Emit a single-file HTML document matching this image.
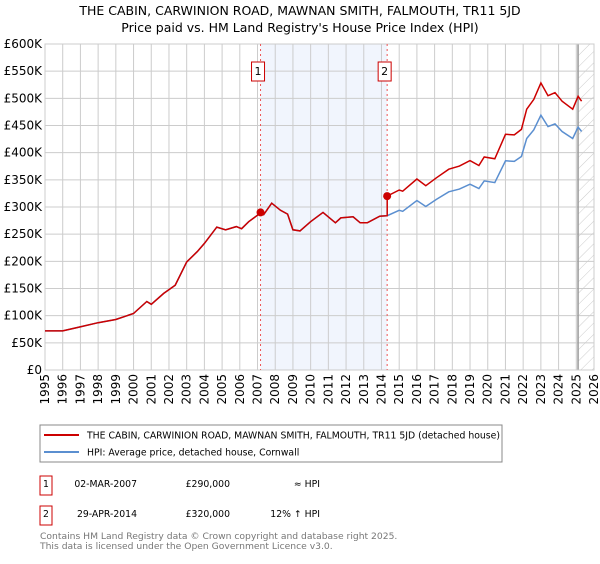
<!DOCTYPE html>
<html><head><meta charset="utf-8"><style>
body{margin:0;background:#fff;font-family:"DejaVu Sans","Liberation Sans",sans-serif;}
svg text{font-family:"DejaVu Sans","Liberation Sans",sans-serif;}
</style></head><body>
<svg id="chart" width="600" height="560" xmlns="http://www.w3.org/2000/svg">
<defs><pattern id="hatch" width="8" height="8" patternUnits="userSpaceOnUse" patternTransform="rotate(45)"><line x1="0" y1="0" x2="0" y2="8" stroke="#ccc" stroke-width="1"/></pattern></defs>
<text x="300" y="15" text-anchor="middle" font-size="12.5">THE CABIN, CARWINION ROAD, MAWNAN SMITH, FALMOUTH, TR11 5JD</text>
<text x="300" y="32" text-anchor="middle" font-size="12.5">Price paid vs. HM Land Registry's House Price Index (HPI)</text>
<g id="plot"></g>
<g>
<rect x="40" y="425" width="462" height="37" fill="#fff" stroke="#888"/>
<line x1="44" y1="435" x2="79" y2="435" stroke="#cc0000" stroke-width="2"/>
<text x="87" y="438.5" font-size="9.3">THE CABIN, CARWINION ROAD, MAWNAN SMITH, FALMOUTH, TR11 5JD (detached house)</text>
<line x1="44" y1="452" x2="79" y2="452" stroke="#5b8fd0" stroke-width="2"/>
<text x="87" y="455.5" font-size="9.3">HPI: Average price, detached house, Cornwall</text>
</g>
<g font-size="9.3">
<rect x="40" y="476" width="12" height="19" fill="#fff" stroke="#cc0000"/>
<text x="46" y="487" text-anchor="middle">1</text>
<text x="137" y="487" text-anchor="end">02-MAR-2007</text>
<text x="230" y="487" text-anchor="end">£290,000</text>
<text x="320" y="487" text-anchor="end">≈ HPI</text>
<rect x="40" y="506" width="12" height="19" fill="#fff" stroke="#cc0000"/>
<text x="46" y="517" text-anchor="middle">2</text>
<text x="137" y="517" text-anchor="end">29-APR-2014</text>
<text x="230" y="517" text-anchor="end">£320,000</text>
<text x="320" y="517" text-anchor="end">12% ↑ HPI</text>
</g>
<text x="40" y="539" font-size="9.2" fill="#777">Contains HM Land Registry data © Crown copyright and database right 2025.</text>
<text x="40" y="549" font-size="9.2" fill="#777">This data is licensed under the Open Government Licence v3.0.</text>
</svg>
<script>
const hpiYears=[1995.0,1996.0,1996.8,1998.0,1999.0,2000.0,2000.75,2001.0,2001.7,2002.35,2003.0,2003.6,2004.0,2004.7,2005.2,2005.8,2006.1,2006.5,2007.0,2007.17,2007.35,2007.8,2008.3,2008.7,2009.0,2009.4,2010.0,2010.7,2011.4,2011.7,2012.4,2012.8,2013.2,2013.9,2014.32,2015.0,2015.2,2016.0,2016.5,2017.1,2017.8,2018.4,2019.0,2019.5,2019.8,2020.4,2021.0,2021.5,2021.9,2022.2,2022.6,2023.0,2023.4,2023.8,2024.2,2024.8,2025.1,2025.3];
const hpiValues=[72,72,78,87,93,104,126,121,141,156,199,218,233,263,258,264,260,273,285,290,286,307,294,287,258,256,273,290,271,280,282,271,271,283,284,294,292,312,301,314,328,333,342,334,348,345,385,384,393,426,442,469,448,453,439,426,447,439];
const saleYears=[2007.17,2014.32];
const salePrices=[290,320];
const saleLabels=["1","2"];
const yTicks=[0,50,100,150,200,250,300,350,400,450,500,550,600];
const xYears=[1995,1996,1997,1998,1999,2000,2001,2002,2003,2004,2005,2006,2007,2008,2009,2010,2011,2012,2013,2014,2015,2016,2017,2018,2019,2020,2021,2022,2023,2024,2025,2026];
const dataEnd=2025.1;

const L=45,R=594,T=44,B=370;
const xs=y=>L+(y-1995)/(2026-1995)*(R-L);
const ys=v=>B-v/600*(B-T);
const NS="http://www.w3.org/2000/svg";
const g=document.getElementById('plot');
function mk(tag,a){const e=document.createElementNS(NS,tag);for(const k in a)e.setAttribute(k,a[k]);g.appendChild(e);return e;}
function hpiAt(t){for(let i=0;i<hpiYears.length-1;i++){if(t>=hpiYears[i]&&t<=hpiYears[i+1]){const f=(t-hpiYears[i])/(hpiYears[i+1]-hpiYears[i]);return hpiValues[i]+f*(hpiValues[i+1]-hpiValues[i]);}}return hpiValues[hpiValues.length-1];}

let e=mk('rect',{x:xs(saleYears[0]),y:T,width:xs(saleYears[1])-xs(saleYears[0]),height:B-T,fill:'#eef3fc',opacity:0.8});


e=mk('rect',{x:xs(dataEnd),y:T,width:R-xs(dataEnd),height:B-T,fill:'url(#hatch)'});


yTicks.forEach(v=>{
 let l=mk('line',{x1:L,x2:R,y1:ys(v),y2:ys(v),stroke:'#ccc'});
 
 
 let t=mk('text',{x:L-3,y:ys(v)+4,'text-anchor':'end','font-size':12});
 
 
 t.textContent=v===0?'£0':'£'+v+'K';
});
xYears.forEach(yr=>{
 let l=mk('line',{x1:xs(yr),x2:xs(yr),y1:T,y2:B,stroke:'#ccc'});
 
 
 let t=mk('text',{x:0,y:0,'text-anchor':'end','font-size':12,transform:`translate(${xs(yr)+4},${B+4}) rotate(-90)`});
 
 
 t.textContent=yr;
});
e=mk('line',{x1:xs(dataEnd),x2:xs(dataEnd),y1:T,y2:B,stroke:'#999','stroke-width':1.5});


e=mk('rect',{x:L,y:T,width:R-L,height:B-T,fill:'none',stroke:'#ccc'});


saleYears.forEach((sy,i)=>{
 let l=mk('line',{x1:xs(sy),x2:xs(sy),y1:T,y2:B,stroke:'#e55','stroke-dasharray':'2,3'});
 
 
 let r=mk('rect',{x:xs(sy)-9,y:62,width:13,height:19,fill:'#fff',stroke:'#cc0000'});
 
 
 let t=mk('text',{x:xs(sy)-2.5,y:75,'text-anchor':'middle','font-size':11});
 
 
 t.textContent=saleLabels[i];
});
let p=hpiYears.map((yr,i)=>(i?'L':'M')+xs(yr).toFixed(1)+','+ys(hpiValues[i]).toFixed(1)).join('');
e=mk('path',{d:p,fill:'none',stroke:'#5b8fd0','stroke-width':1.5});


const r1=salePrices[0]/hpiAt(saleYears[0]), r2=salePrices[1]/hpiAt(saleYears[1]);
const pts=[];
hpiYears.forEach((yr,i)=>{
 if(yr<saleYears[1]) pts.push([yr,hpiValues[i]*r1]);
});
pts.push([saleYears[1],hpiAt(saleYears[1])*r1]);
pts.push([saleYears[1],salePrices[1]]);
hpiYears.forEach((yr,i)=>{ if(yr>saleYears[1]) pts.push([yr,hpiValues[i]*r2]); });
p=pts.map((q,i)=>(i?'L':'M')+xs(q[0]).toFixed(1)+','+ys(q[1]).toFixed(1)).join('');
e=mk('path',{d:p,fill:'none',stroke:'#cc0000','stroke-width':1.5});


saleYears.forEach((sy,i)=>{
 let c=mk('circle',{cx:xs(sy),cy:ys(salePrices[i]),r:4,fill:'#cc0000'});
 
 
});
</script>
</body></html>
